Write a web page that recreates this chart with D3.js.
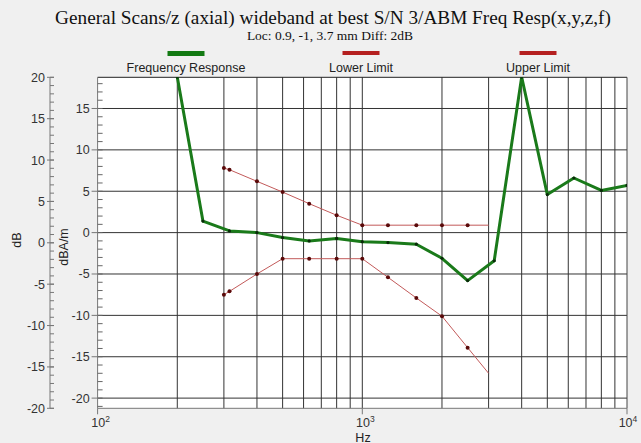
<!DOCTYPE html>
<html><head><meta charset="utf-8">
<script src="https://cdn.jsdelivr.net/npm/d3@7"></script>
<style>
html,body{margin:0;padding:0;background:#f0f0f0;}
svg{display:block;}
</style></head>
<body>
<svg id="chart" width="641" height="443"></svg>
<script>
const titleText = "General Scans/z (axial) wideband at best S/N 3/ABM Freq Resp(x,y,z,f)";
const subtitleText = "Loc: 0.9, -1, 3.7 mm Diff: 2dB";
const seriesNames = ["Frequency Response", "Lower Limit", "Upper Limit"];

const respFreqs = [200,250,315,400,500,630,800,1000,1250,1600,2000,2500,3150,4000,5000,6300,8000,10000];
const respValues = [18.8,1.4,0.2,0.0,-0.6,-1.0,-0.7,-1.1,-1.2,-1.4,-3.1,-5.8,-3.4,18.8,4.6,6.6,5.1,5.7];

const limitFreqs = [300,315,400,500,630,800,1000,1250,1600,2000,2500,3000];
const upperValues = [7.8,7.6,6.2,4.9,3.5,2.1,0.9,0.9,0.9,0.9,0.9,0.9];
const lowerValues = [-7.5,-7.1,-5.0,-3.15,-3.15,-3.15,-3.15,-5.4,-7.9,-10.1,-13.9,-17.0];

const xGridFreqs = [200,300,400,500,600,700,800,900,1000,2000,3000,4000,5000,6000,7000,8000,9000];
const xDecades = [100,1000,10000];
const xDecadeExp = ["2","3","4"];
const innerTicks = [-20,-15,-10,-5,0,5,10,15];
const outerTicks = [-20,-15,-10,-5,0,5,10,15,20];

const svg = d3.select("#chart");
const W = 641, H = 443;
const L = 97.6, R = 627, T = 77.3, B = 408.3;

const x = d3.scaleLog().domain([100,10000]).range([L,R]);
const yIn = d3.scaleLinear().domain([-21.23,18.77]).range([B,T]);
const yOut = d3.scaleLinear().domain([-20,20]).range([B,T]);

svg.append("rect").attr("width",W).attr("height",H).attr("fill","#f0f0f0");
svg.append("rect").attr("x",L).attr("y",T).attr("width",R-L).attr("height",B-T).attr("fill","#fff");

// title
svg.append("text").attr("x",333).attr("y",24).attr("text-anchor","middle")
  .attr("font-family","Liberation Serif, Times New Roman, serif").attr("font-size",19.25).attr("fill","#111").text(titleText);
svg.append("text").attr("x",330).attr("y",39.5).attr("text-anchor","middle")
  .attr("font-family","Liberation Serif, Times New Roman, serif").attr("font-size",13.5).attr("fill","#111").text(subtitleText);

// legend
const legendX = [186, 361, 538];
const legendColors = ["#137a13", "#b52020", "#b52020"];
const legendH = [5, 4, 4];
seriesNames.forEach((n,i)=>{
  svg.append("rect").attr("x",legendX[i]-18.5).attr("y",51).attr("width",37).attr("height",legendH[i]).attr("fill",legendColors[i]);
  svg.append("text").attr("x",legendX[i]).attr("y",72).attr("text-anchor","middle")
    .attr("font-family","Liberation Sans, Arial, sans-serif").attr("font-size",12.5).attr("fill","#222").text(n);
});

// grid
const grid = svg.append("g");
grid.selectAll("line.v").data(xGridFreqs).enter().append("line")
  .attr("x1",d=>x(d)).attr("x2",d=>x(d)).attr("y1",T).attr("y2",B)
  .attr("stroke","#333").attr("stroke-width",1);
grid.selectAll("line.h").data(innerTicks).enter().append("line")
  .attr("x1",L).attr("x2",R).attr("y1",d=>yIn(d)).attr("y2",d=>yIn(d))
  .attr("stroke","#333").attr("stroke-width",1);

// plot border
svg.append("line").attr("x1",L).attr("x2",R).attr("y1",T).attr("y2",T).attr("stroke","#222");
svg.append("line").attr("x1",R).attr("x2",R).attr("y1",T).attr("y2",B).attr("stroke","#444");
svg.append("line").attr("x1",L).attr("x2",R).attr("y1",B).attr("y2",B).attr("stroke","#777");

// inner axis (dBA/m)
const inner = svg.append("g");
inner.append("line").attr("x1",L).attr("x2",L).attr("y1",T).attr("y2",B).attr("stroke","#777");
inner.selectAll("line.minor").data(d3.range(-21,19)).enter().append("line")
  .attr("x1",L).attr("x2",L+5).attr("y1",d=>yIn(d)).attr("y2",d=>yIn(d)).attr("stroke","#666");
inner.selectAll("line.major").data(innerTicks).enter().append("line")
  .attr("x1",L-6).attr("x2",L).attr("y1",d=>yIn(d)).attr("y2",d=>yIn(d)).attr("stroke","#777");
inner.selectAll("text").data(innerTicks).enter().append("text")
  .attr("x",L-8).attr("y",d=>yIn(d)+4.5).attr("text-anchor","end")
  .attr("font-family","Liberation Sans, Arial, sans-serif").attr("font-size",12.5).attr("fill","#333").text(d=>d);

// outer axis (dB)
const OX = 50;
const outer = svg.append("g");
outer.append("line").attr("x1",OX).attr("x2",OX).attr("y1",T).attr("y2",B).attr("stroke","#777");
outer.selectAll("line.minor").data(d3.range(-20,21)).enter().append("line")
  .attr("x1",OX).attr("x2",OX+4).attr("y1",d=>yOut(d)).attr("y2",d=>yOut(d)).attr("stroke","#777");
outer.selectAll("line.major").data(outerTicks).enter().append("line")
  .attr("x1",OX-3).attr("x2",OX+4).attr("y1",d=>yOut(d)).attr("y2",d=>yOut(d)).attr("stroke","#777");
outer.selectAll("text").data(outerTicks).enter().append("text")
  .attr("x",OX-5).attr("y",d=>yOut(d)+4.5).attr("text-anchor","end")
  .attr("font-family","Liberation Sans, Arial, sans-serif").attr("font-size",12.5).attr("fill","#333").text(d=>d);

// axis titles
svg.append("text").attr("transform","translate(21,240) rotate(-90)").attr("text-anchor","middle")
  .attr("font-family","Liberation Sans, Arial, sans-serif").attr("font-size",12.5).attr("fill","#222").text("dB");
svg.append("text").attr("transform","translate(68,247) rotate(-90)").attr("text-anchor","middle")
  .attr("font-family","Liberation Sans, Arial, sans-serif").attr("font-size",12.5).attr("fill","#222").text("dBA/m");
svg.append("text").attr("x",363).attr("y",441.5).attr("text-anchor","middle")
  .attr("font-family","Liberation Sans, Arial, sans-serif").attr("font-size",12.5).attr("fill","#222").text("Hz");

// x decade ticks and labels
svg.selectAll("line.xt").data(xDecades).enter().append("line")
  .attr("x1",d=>x(d)).attr("x2",d=>x(d)).attr("y1",B).attr("y2",B+6).attr("stroke","#777");
xDecades.forEach((d,i)=>{
  const t = svg.append("text").attr("x",x(d)+ (i===2 ? 1 : 3)).attr("y",427).attr("text-anchor","middle")
    .attr("font-family","Liberation Sans, Arial, sans-serif").attr("font-size",12.5).attr("fill","#333");
  t.append("tspan").text("10");
  t.append("tspan").attr("dy",-5).attr("font-size",8.5).text(xDecadeExp[i]);
});

// clip
svg.append("clipPath").attr("id","plotclip").append("rect").attr("x",L).attr("y",T).attr("width",R-L).attr("height",B-T);

const line = d3.line().x(d=>x(d[0])).y(d=>yIn(d[1]));
const plot = svg.append("g").attr("clip-path","url(#plotclip)");

const upper = limitFreqs.map((f,i)=>[f,upperValues[i]]);
const lower = limitFreqs.map((f,i)=>[f,lowerValues[i]]);
[upper, lower].forEach(s=>{
  plot.append("path").attr("d",line(s)).attr("fill","none").attr("stroke","#c25a5a").attr("stroke-width",1);
  plot.selectAll(null).data(s.slice(0,-1)).enter().append("circle")
    .attr("cx",d=>x(d[0])).attr("cy",d=>yIn(d[1])).attr("r",2).attr("fill","#5a0a0a");
});

const resp = respFreqs.map((f,i)=>[f,respValues[i]]);
plot.append("path").attr("d",line(resp)).attr("fill","none").attr("stroke","#1a7a1a").attr("stroke-width",3).attr("stroke-linejoin","round");
plot.selectAll(null).data(resp).enter().append("circle")
  .attr("cx",d=>x(d[0])).attr("cy",d=>yIn(d[1])).attr("r",1.6).attr("fill","#0a2a0a");
</script>
</body></html>
